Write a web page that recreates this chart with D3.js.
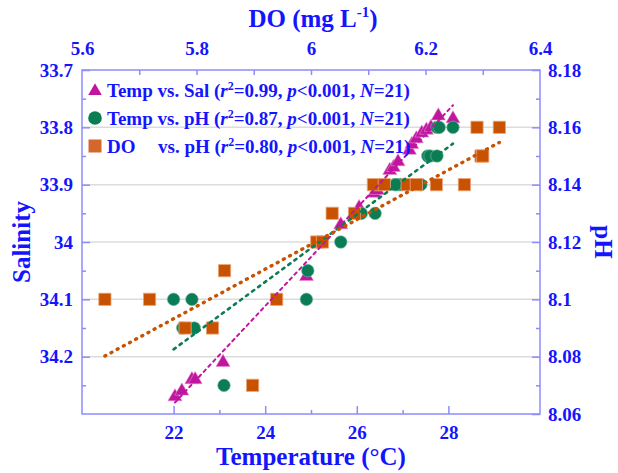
<!DOCTYPE html>
<html>
<head>
<meta charset="utf-8">
<script src="https://cdn.jsdelivr.net/npm/d3@7"></script>
<style>
  body { margin: 0; background: #fff; }
  text { font-family: "Liberation Serif", "Times New Roman", serif; font-weight: bold; fill: #1414ff; }
</style>
</head>
<body>
<div id="chart"></div>
<script>
// Temp vs. Salinity (triangles, bottom + left axes)
var salTemp = [22.03, 22.18, 22.4, 22.47, 23.08, 24.9, 25.65, 26.05, 26.38, 26.45, 26.72, 26.8, 26.9, 27.15, 27.2, 27.3, 27.42, 27.52, 27.62, 27.78, 28.1];
var salValue = [34.27, 34.26, 34.24, 34.24, 34.21, 34.06, 33.97, 33.94, 33.915, 33.91, 33.875, 33.87, 33.86, 33.84, 33.83, 33.82, 33.81, 33.805, 33.8, 33.78, 33.785];

// Temp vs. pH (circles, bottom + right axes)
var phTemp = [22.0, 22.4, 22.2, 22.45, 23.1, 24.9, 24.93, 25.65, 26.1, 26.4, 26.83, 26.9, 26.95, 27.4, 27.55, 27.6, 27.75, 27.75, 27.8, 28.1, 26.85];
var phValue = [8.10, 8.10, 8.09, 8.09, 8.07, 8.10, 8.11, 8.12, 8.13, 8.13, 8.14, 8.14, 8.14, 8.14, 8.15, 8.15, 8.15, 8.16, 8.16, 8.16, 8.14];

// DO vs. pH (squares, top + right axes)
var doValue = [5.64, 5.718, 5.78, 5.828, 5.849, 5.898, 5.94, 6.01, 6.02, 6.037, 6.076, 6.109, 6.128, 6.168, 6.184, 6.219, 6.268, 6.297, 6.3, 6.29, 6.329];
var doPh = [8.10, 8.10, 8.09, 8.09, 8.11, 8.07, 8.10, 8.12, 8.12, 8.13, 8.13, 8.14, 8.14, 8.14, 8.14, 8.14, 8.14, 8.15, 8.15, 8.16, 8.16];

var tempTicks = [22, 24, 26, 28];
var tempMinor = [23, 25, 27];
var doTicks = [5.6, 5.8, 6, 6.2, 6.4];
var doMinor = [5.7, 5.8, 5.9, 6, 6.1, 6.2, 6.3];
var salTicks = [33.7, 33.8, 33.9, 34, 34.1, 34.2];
var salMinor = [33.75, 33.85, 33.95, 34.05, 34.15, 34.25];
var phTicks = [8.06, 8.08, 8.1, 8.12, 8.14, 8.16, 8.18];
var phMinor = [8.07, 8.09, 8.11, 8.13, 8.15, 8.17];
var gridSal = [33.8, 33.9, 34, 34.1, 34.2];

var legendNames = ['Temp vs. Sal', 'Temp vs. pH', 'DO'];
var legendR2 = ['0.99', '0.87', '0.80'];

var width = 618, height = 473;
var plotL = 82, plotR = 540, plotT = 70, plotB = 414;
var axisCol = '#8c8cff';
var colTri = '#c0169f', colCir = '#0b7d55', colSq = '#c85200';

var svg = d3.select('#chart')
  .append('svg')
  .attr('width', width)
  .attr('height', height);

var xT = d3.scaleLinear().domain([20, 30]).range([plotL, plotR]);
var xDO = d3.scaleLinear().domain([5.6, 6.4]).range([plotL, plotR]);
var ySal = d3.scaleLinear().domain([33.7, 34.3]).range([plotT, plotB]);
var yPH = d3.scaleLinear().domain([8.06, 8.18]).range([plotB, plotT]);

var fmt = function (d) { return String(+d.toFixed(2)); };

// grid lines
svg.append('g')
  .selectAll('line')
  .data(gridSal)
  .enter()
  .append('line')
  .attr('x1', plotL).attr('x2', plotR)
  .attr('y1', function (d) { return ySal(d); })
  .attr('y2', function (d) { return ySal(d); })
  .attr('stroke', '#dcdcdc')
  .attr('stroke-width', 1.5);

function styleAxis(g) {
  g.select('.domain').remove();
  g.selectAll('line').attr('stroke', axisCol).attr('stroke-width', 1.5);
  g.selectAll('text').style('font-size', '19px').attr('fill', '#1414ff');
}

// bottom axis
svg.append('g').attr('transform', 'translate(0,' + plotB + ')')
  .call(d3.axisBottom(xT).tickValues(tempTicks).tickSize(-8).tickPadding(12).tickFormat(fmt))
  .call(styleAxis);
svg.append('g').attr('transform', 'translate(0,' + plotB + ')')
  .call(d3.axisBottom(xT).tickValues(tempMinor).tickSize(-4).tickFormat(''))
  .call(styleAxis);

// top axis
svg.append('g').attr('transform', 'translate(0,' + plotT + ')')
  .call(d3.axisTop(xDO).tickValues(doTicks).tickSize(0).tickPadding(15).tickFormat(fmt))
  .call(styleAxis);
svg.append('g').attr('transform', 'translate(0,' + plotT + ')')
  .call(d3.axisTop(xDO).tickValues(doMinor).tickSize(-5).tickFormat(''))
  .call(styleAxis);

// left axis
svg.append('g').attr('transform', 'translate(' + plotL + ',0)')
  .call(d3.axisLeft(ySal).tickValues(salTicks).tickSize(-8).tickPadding(9).tickFormat(fmt))
  .call(styleAxis);
svg.append('g').attr('transform', 'translate(' + plotL + ',0)')
  .call(d3.axisLeft(ySal).tickValues(salMinor).tickSize(-4).tickFormat(''))
  .call(styleAxis);

// right axis
svg.append('g').attr('transform', 'translate(' + plotR + ',0)')
  .call(d3.axisRight(yPH).tickValues(phTicks).tickSize(-8).tickPadding(8).tickFormat(fmt))
  .call(styleAxis);
svg.append('g').attr('transform', 'translate(' + plotR + ',0)')
  .call(d3.axisRight(yPH).tickValues(phMinor).tickSize(-4).tickFormat(''))
  .call(styleAxis);

// frame
svg.append('rect')
  .attr('x', plotL).attr('y', plotT)
  .attr('width', plotR - plotL).attr('height', plotB - plotT)
  .attr('fill', 'none')
  .attr('stroke', axisCol)
  .attr('stroke-width', 1.5);

// axis titles
svg.append('text')
  .attr('x', (plotL + plotR) / 2).attr('y', 465)
  .attr('text-anchor', 'middle')
  .style('font-size', '25px')
  .text('Temperature (\u00B0C)');

var doTitle = svg.append('text')
  .attr('x', (plotL + plotR) / 2 + 2).attr('y', 27)
  .attr('text-anchor', 'middle')
  .style('font-size', '25px');
doTitle.append('tspan').text('DO (mg L');
doTitle.append('tspan').attr('dy', -10).style('font-size', '15px').text('-1');
doTitle.append('tspan').attr('dy', 10).text(')');

svg.append('text')
  .attr('transform', 'translate(30,' + (plotT + plotB) / 2 + ') rotate(-90)')
  .attr('text-anchor', 'middle')
  .style('font-size', '25px')
  .text('Salinity');

svg.append('text')
  .attr('transform', 'translate(595,' + (plotT + plotB) / 2 + ') rotate(90)')
  .attr('text-anchor', 'middle')
  .style('font-size', '25px')
  .text('pH');

// points
var tri = d3.symbol().type(d3.symbolTriangle).size(85);
var sq = d3.symbol().type(d3.symbolSquare).size(150);

svg.append('g')
  .selectAll('path')
  .data(d3.range(salTemp.length))
  .enter()
  .append('path')
  .attr('d', tri)
  .attr('transform', function (i) { return 'translate(' + xT(salTemp[i]) + ',' + ySal(salValue[i]) + ')'; })
  .attr('fill', colTri)
  .attr('stroke', '#e48ad0')
  .attr('stroke-width', 0.6);

svg.append('g')
  .selectAll('circle')
  .data(d3.range(phTemp.length))
  .enter()
  .append('circle')
  .attr('cx', function (i) { return xT(phTemp[i]); })
  .attr('cy', function (i) { return yPH(phValue[i]); })
  .attr('r', 6.3)
  .attr('fill', colCir)
  .attr('stroke', '#7cc0a4')
  .attr('stroke-width', 0.6);

svg.append('g')
  .selectAll('path')
  .data(d3.range(doValue.length))
  .enter()
  .append('path')
  .attr('d', sq)
  .attr('transform', function (i) { return 'translate(' + xDO(doValue[i]) + ',' + yPH(doPh[i]) + ')'; })
  .attr('fill', colSq)
  .attr('stroke', '#eca67c')
  .attr('stroke-width', 0.8);

// least-squares fit lines
function fit(xs, ys) {
  var mx = d3.mean(xs), my = d3.mean(ys);
  var sxy = d3.sum(xs, function (x, i) { return (x - mx) * (ys[i] - my); });
  var sxx = d3.sum(xs, function (x) { return (x - mx) * (x - mx); });
  var b = sxy / sxx, a = my - b * mx;
  var ext = d3.extent(xs);
  return ext.map(function (x) { return [x, a + b * x]; });
}

function fitLine(pts, sx, sy, color, dash, w) {
  svg.append('path')
    .datum(pts)
    .attr('d', d3.line().x(function (d) { return sx(d[0]); }).y(function (d) { return sy(d[1]); }))
    .attr('fill', 'none')
    .attr('stroke', color)
    .attr('stroke-width', w)
    .attr('stroke-dasharray', dash)
    .attr('stroke-linecap', 'round');
}

fitLine(fit(salTemp, salValue), xT, ySal, colTri, '3,4', 2);
fitLine(fit(phTemp, phValue), xT, yPH, colCir, '2.5,5', 2.6);
fitLine(fit(doValue, doPh), xDO, yPH, colSq, '1,6', 3.4);

// legend
var legend = svg.append('g');
var legY = [90, 118, 146];

legend.append('path').attr('d', d3.symbol().type(d3.symbolTriangle).size(80))
  .attr('transform', 'translate(95,' + (legY[0] + 1) + ')').attr('fill', colTri);
legend.append('circle').attr('cx', 95).attr('cy', legY[1]).attr('r', 6.8).attr('fill', colCir);
legend.append('rect').attr('x', 88.5).attr('y', legY[2] - 6.5).attr('width', 13).attr('height', 13)
  .attr('fill', '#d4682c');

legendNames.forEach(function (name, i) {
  var t = legend.append('text')
    .attr('x', 107)
    .attr('y', legY[i] + 6.5)
    .style('font-size', '19px');
  if (i === 2) {
    t.append('tspan').text(name);
    t.append('tspan').attr('x', 158).text('vs. pH (');
  } else {
    t.append('tspan').text(name + ' (');
  }
  t.append('tspan').style('font-style', 'italic').text('r');
  t.append('tspan').attr('dy', -7).style('font-size', '12px').text('2');
  t.append('tspan').attr('dy', 7).text('=' + legendR2[i] + ', ');
  t.append('tspan').style('font-style', 'italic').text('p');
  t.append('tspan').text('<0.001, ');
  t.append('tspan').style('font-style', 'italic').text('N');
  t.append('tspan').text('=21)');
});
</script>
</body>
</html>
